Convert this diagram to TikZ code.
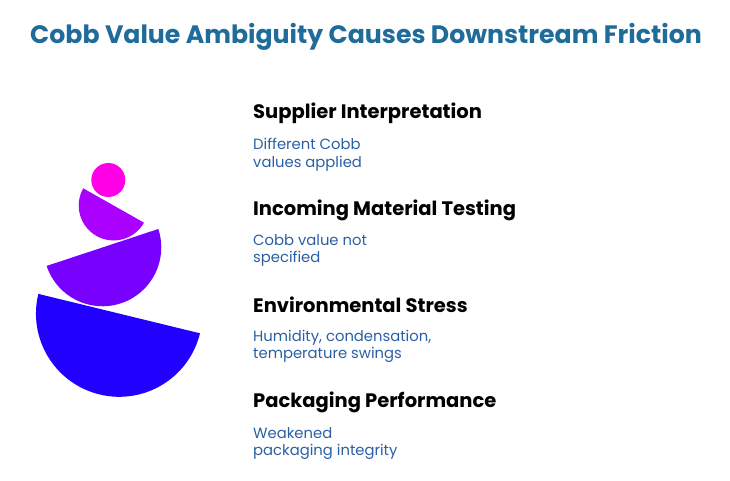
\documentclass[tikz,border=0pt]{standalone}
\usepackage{fontspec}
\setmainfont{Poppins}
\definecolor{ttl}{HTML}{1F6B99}
\definecolor{bdy}{HTML}{2B5FA3}
\begin{document}
\begin{tikzpicture}[x=1pt,y=-1pt,
 head/.style={anchor=west,inner sep=0,font=\fontsize{19.5}{22}\selectfont\bfseries},
 body/.style={anchor=north west,inner sep=0,align=left,text=bdy,font=\fontsize{14.8}{17.5}\selectfont}]
\useasboundingbox (0,0) rectangle (730,481);
\node[inner sep=0,text=ttl,font=\fontsize{25.2}{28}\selectfont\bfseries] (t) at (366,37) {Cobb Value Ambiguity Causes Downstream Friction};
\fill[color={rgb,255:red,255;green,0;blue,230}] (108.3,180) circle (17);
\fill[color={rgb,255:red,170;green,0;blue,255}] (144,222.7) arc[start angle=29.5,end angle=209.5,radius=34.9] -- cycle;
\fill[color={rgb,255:red,119;green,0;blue,255}] (158.3,229) arc[start angle=-18.3,end angle=161.7,radius=58.8] -- cycle;
\fill[color={rgb,255:red,34;green,0;blue,255}] (200,333.3) arc[start angle=13.7,end angle=193.7,radius=83.2] -- cycle;
\node[head] (h1) at (253,113) {Supplier Interpretation};
\node[body] (b1) at (253,138) {Different Cobb\\values applied};
\node[head] (h2) at (253,210) {Incoming Material Testing};
\node[body] (b2) at (253,234) {Cobb value not\\specified};
\node[head] (h3) at (253,305) {Environmental Stress};
\node[body] (b3) at (253,330) {Humidity, condensation,\\temperature swings};
\node[head] (h4) at (253,402) {Packaging Performance};
\node[body] (b4) at (253,427) {Weakened\\packaging integrity};
\end{tikzpicture}
\end{document}
